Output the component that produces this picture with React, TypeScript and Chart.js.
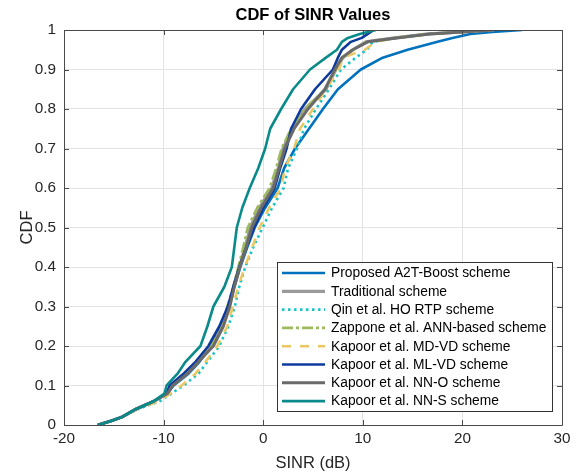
import React, { useEffect, useRef } from "react";
import { Chart, registerables } from "chart.js";

Chart.register(...registerables);

// CDF probability levels (y) shared by every series
const cdfLevels = [0, 0.01, 0.02, 0.04, 0.06, 0.08, 0.1, 0.13, 0.16, 0.2, 0.25, 0.3, 0.35, 0.4, 0.45, 0.5, 0.55, 0.6, 0.65, 0.7, 0.75, 0.8, 0.85, 0.9, 0.93, 0.95, 0.97, 0.98, 0.99, 0.995, 1];

// SINR (dB) reached by each scheme at each CDF level
const proposedSinr = [-16.6, -15.3, -14.2, -12.8, -11.0, -9.6, -9.0, -7.5, -6.4, -5.2, -4.2, -3.4, -2.9, -2.3, -1.6, -0.85, 0.2, 1.45, 2.1, 3.2, 4.6, 6.0, 7.5, 9.8, 12.0, 14.5, 17.5, 19.0, 20.8, 23.0, 26.0];
const traditionalSinr = [-16.6, -15.3, -14.2, -12.8, -11.0, -9.7, -9.2, -7.7, -6.6, -5.1, -4.1, -3.45, -2.95, -2.4, -1.8, -1.3, -0.4, 0.85, 1.5, 2.0, 2.9, 4.2, 6.3, 7.3, 8.0, 9.0, 10.3, 13.2, 16.6, 20.0, 23.2];
const qinSinr = [-16.6, -15.3, -14.2, -12.6, -10.4, -9.2, -8.0, -6.5, -5.6, -4.4, -3.5, -2.85, -2.4, -1.8, -1.0, -0.05, 0.9, 2.05, 2.5, 3.4, 4.1, 5.3, 6.6, 7.8, 9.3, 10.4, 11.0, 13.3, 16.6, 19.9, 22.8];
const zapponeSinr = [-16.6, -15.3, -14.2, -12.8, -11.0, -9.7, -9.2, -7.7, -6.6, -5.2, -4.2, -3.6, -3.0, -2.5, -2.0, -1.55, -0.6, 0.65, 1.3, 1.85, 2.8, 4.2, 6.2, 7.3, 8.0, 9.0, 10.4, 13.3, 16.6, 19.8, 22.8];
const mdVdSinr = [-16.6, -15.3, -14.2, -12.6, -10.5, -9.3, -8.2, -6.8, -5.8, -4.6, -3.6, -3.05, -2.5, -1.85, -1.1, -0.35, 0.6, 1.75, 2.2, 3.1, 3.7, 5.0, 6.3, 7.6, 8.0, 10.2, 11.3, 13.3, 16.6, 19.9, 22.8];
const mlVdSinr = [-16.6, -15.3, -14.2, -12.8, -11.0, -9.7, -9.4, -8.0, -6.8, -5.5, -4.4, -3.55, -3.0, -2.4, -1.7, -0.9, 0.0, 1.15, 1.7, 2.35, 2.8, 3.8, 5.2, 7.0, 7.5, 7.9, 8.8, 9.9, 10.5, 10.8, 11.0];
const nnOSinr = [-16.6, -15.3, -14.2, -12.8, -11.0, -9.6, -9.1, -7.6, -6.5, -5.0, -4.0, -3.35, -2.9, -2.35, -1.7, -1.15, -0.2, 1.0, 1.6, 2.15, 3.1, 4.5, 6.2, 7.2, 7.9, 9.0, 10.5, 13.4, 16.7, 20.0, 23.0];
const nnSSinr = [-16.6, -15.3, -14.2, -12.8, -11.0, -9.9, -9.7, -8.6, -7.8, -6.3, -5.6, -5.0, -3.9, -3.15, -2.9, -2.65, -2.1, -1.35, -0.5, 0.2, 0.7, 1.8, 3.0, 4.7, 6.3, 7.4, 7.9, 8.5, 9.7, 10.5, 11.3];

const seriesLabels = [
  "Proposed A2T-Boost scheme",
  "Traditional scheme",
  "Qin et al. HO RTP scheme",
  "Zappone et al. ANN-based scheme",
  "Kapoor et al. MD-VD scheme",
  "Kapoor et al. ML-VD scheme",
  "Kapoor et al. NN-O scheme",
  "Kapoor et al. NN-S scheme",
];

const xTickValues = [-20, -10, 0, 10, 20, 30];
const yTickValues = [0, 0.1, 0.2, 0.3, 0.4, 0.5, 0.6, 0.7, 0.8, 0.9, 1];

const FONT = "'Liberation Sans', Arial, Helvetica, sans-serif";

export default function App() {
  const ref = useRef<HTMLCanvasElement>(null);

  useEffect(() => {
    const canvas = ref.current;
    if (!canvas) return;

    const styles = [
      { x: proposedSinr, color: "#0072BD", width: 2.6, dash: [] as number[] },
      { x: traditionalSinr, color: "#9a9a9a", width: 3.2, dash: [] as number[] },
      { x: qinSinr, color: "#1CC3C6", width: 2.6, dash: [2.5, 3.5] },
      { x: zapponeSinr, color: "#9DBA5E", width: 2.6, dash: [11, 3, 3, 3] },
      { x: mdVdSinr, color: "#EAC864", width: 2.6, dash: [9, 9] },
      { x: mlVdSinr, color: "#0E3A9E", width: 2.6, dash: [] as number[] },
      { x: nnOSinr, color: "#6a6a6a", width: 3.0, dash: [] as number[] },
      { x: nnSSinr, color: "#0B8A8A", width: 2.6, dash: [] as number[] },
    ];

    const datasets = styles.map((s, i) => ({
      label: seriesLabels[i],
      data: s.x.map((x, j) => ({ x, y: cdfLevels[j] })),
      borderColor: s.color,
      backgroundColor: s.color,
      borderWidth: s.width,
      borderDash: s.dash,
      borderCapStyle: "butt" as const,
      borderJoinStyle: "round" as const,
      pointRadius: 0,
      pointHoverRadius: 0,
      showLine: true,
      fill: false,
      tension: 0,
      order: styles.length - i,
    }));

    const frame = {
      id: "frame",
      afterDraw(chart: any) {
        const { ctx, chartArea } = chart;
        const { left, right, top, bottom } = chartArea;
        const xs = chart.scales.x;
        const ys = chart.scales.y;
        ctx.save();
        // box
        ctx.strokeStyle = "#4a4a4a";
        ctx.lineWidth = 1;
        ctx.beginPath();
        ctx.rect(Math.round(left) + 0.5, Math.round(top) + 0.5, Math.round(right - left), Math.round(bottom - top));
        ctx.stroke();
        // inward ticks
        ctx.beginPath();
        xTickValues.forEach((v) => {
          const px = Math.round(xs.getPixelForValue(v)) + 0.5;
          ctx.moveTo(px, bottom);
          ctx.lineTo(px, bottom - 5);
          ctx.moveTo(px, top);
          ctx.lineTo(px, top + 5);
        });
        yTickValues.forEach((v) => {
          const py = Math.round(ys.getPixelForValue(v)) + 0.5;
          ctx.moveTo(left, py);
          ctx.lineTo(left + 5, py);
          ctx.moveTo(right, py);
          ctx.lineTo(right - 5, py);
        });
        ctx.stroke();

        // title and axis titles
        ctx.fillStyle = "#000";
        ctx.textAlign = "center";
        ctx.textBaseline = "middle";
        ctx.font = `bold 16.5px ${FONT}`;
        ctx.fillText("CDF of SINR Values", (left + right) / 2, 15);
        ctx.fillStyle = "#262626";
        ctx.font = `16.5px ${FONT}`;
        ctx.fillText("SINR (dB)", (left + right) / 2, 463);
        ctx.save();
        ctx.translate(27, (top + bottom) / 2);
        ctx.rotate(-Math.PI / 2);
        ctx.fillText("CDF", 0, 0);
        ctx.restore();

        // legend
        const lx = 277, ly = 262, lw = 275, lh = 149;
        ctx.fillStyle = "#fff";
        ctx.fillRect(lx, ly, lw, lh);
        ctx.strokeStyle = "#333";
        ctx.lineWidth = 1;
        ctx.strokeRect(lx + 0.5, ly + 0.5, lw, lh);
        ctx.font = `13.8px ${FONT}`;
        ctx.textAlign = "left";
        ctx.textBaseline = "middle";
        styles.forEach((s, i) => {
          const cy = 273 + i * 18.3;
          ctx.save();
          ctx.strokeStyle = s.color;
          ctx.lineWidth = s.width;
          ctx.setLineDash(s.dash);
          ctx.lineCap = "butt";
          ctx.beginPath();
          ctx.moveTo(282, cy);
          ctx.lineTo(325, cy);
          ctx.stroke();
          ctx.restore();
          ctx.fillStyle = "#000";
          ctx.fillText(seriesLabels[i], 331, cy + 0.5);
        });
        ctx.restore();
      },
    };

    const chart = new Chart(canvas, {
      type: "scatter",
      data: { datasets },
      options: {
        animation: false,
        responsive: false,
        devicePixelRatio: 1,
        layout: { padding: { left: 0, right: 22, top: 30, bottom: 0 } },
        plugins: {
          legend: { display: false },
          title: { display: false },
          tooltip: { enabled: false },
        },
        events: [],
        scales: {
          x: {
            type: "linear",
            min: -20,
            max: 30,
            afterBuildTicks: (scale: any) => {
              scale.ticks = xTickValues.map((v) => ({ value: v }));
            },
            afterFit: (scale: any) => {
              scale.height = 51;
            },
            ticks: {
              autoSkip: false,
              maxRotation: 0,
              padding: 5,
              color: "#262626",
              font: { family: FONT, size: 15.3 },
              callback: (v: any) => String(v),
            },
            grid: { color: "#e3e3e3", drawTicks: false, lineWidth: 1 },
            border: { display: false },
          },
          y: {
            type: "linear",
            min: 0,
            max: 1,
            afterBuildTicks: (scale: any) => {
              scale.ticks = yTickValues.map((v) => ({ value: v }));
            },
            afterFit: (scale: any) => {
              scale.width = 64;
            },
            ticks: {
              autoSkip: false,
              padding: 8,
              color: "#262626",
              font: { family: FONT, size: 15.3 },
              callback: (v: any) => String(Math.round(Number(v) * 10) / 10),
            },
            grid: { color: "#e3e3e3", drawTicks: false, lineWidth: 1 },
            border: { display: false },
          },
        },
      },
      plugins: [frame],
    });

    return () => chart.destroy();
  }, []);

  return (
    <div style={{ position: "absolute", left: 0, top: 0, width: 584, height: 476, background: "#fff" }}>
      <canvas ref={ref} width={584} height={476} style={{ display: "block", width: 584, height: 476 }} />
    </div>
  );
}
